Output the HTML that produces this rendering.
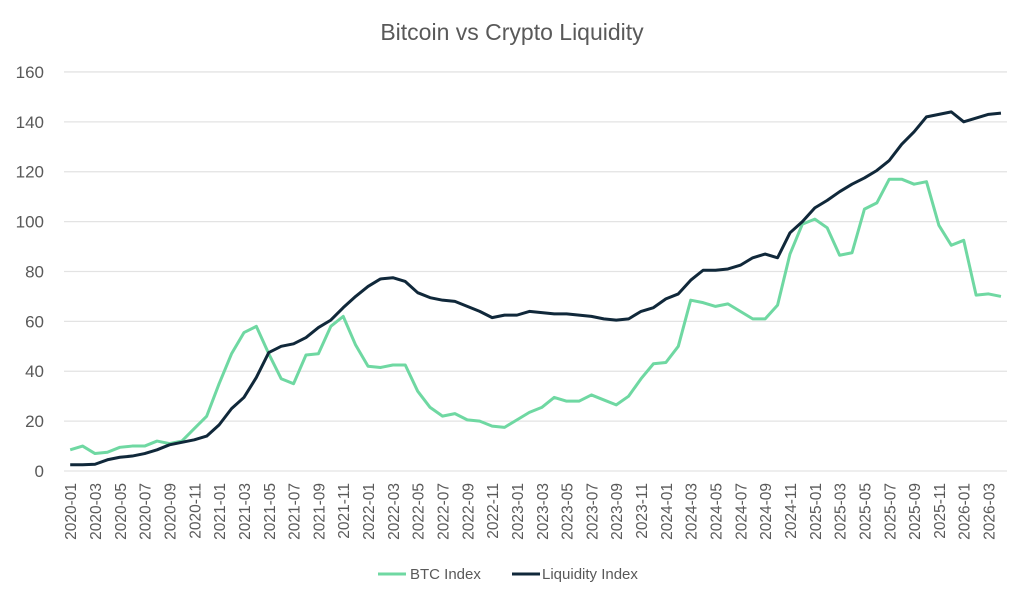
<!DOCTYPE html>
<html><head><meta charset="utf-8"><style>
body{margin:0;background:#fff;}
svg{display:block;font-family:"Liberation Sans",sans-serif;}
</style></head><body>
<svg id="c" width="1024" height="598" xmlns="http://www.w3.org/2000/svg">
<text x="512" y="40" text-anchor="middle" font-size="23" fill="#595959">Bitcoin vs Crypto Liquidity</text>
<g id="grid" stroke="#e3e3e3" stroke-width="1.3"></g>
<g id="yl" font-size="17" fill="#595959" text-anchor="end"></g>
<g id="xl" font-size="15.5" fill="#595959"></g>
<polyline id="btc" fill="none" stroke="#6fd8a2" stroke-width="3" stroke-linejoin="round"/>
<polyline id="liq" fill="none" stroke="#10283a" stroke-width="3" stroke-linejoin="round"/>
<line x1="378" y1="574" x2="406" y2="574" stroke="#6fd8a2" stroke-width="3"/>
<text x="410" y="579" font-size="15" fill="#595959">BTC Index</text>
<line x1="512" y1="574" x2="540" y2="574" stroke="#10283a" stroke-width="3"/>
<text x="542" y="579" font-size="15" fill="#595959">Liquidity Index</text>
</svg>
<script>
const btc=[8.5,10,7,7.5,9.5,10,10,12,11,12,17,22,35,47,55.5,58,47,37,35,46.5,47,58,62,50.5,42,41.5,42.5,42.5,32,25.5,22,23,20.5,20,18,17.5,20.5,23.5,25.5,29.5,28,28,30.5,28.5,26.5,30,37,43,43.5,50,68.5,67.5,66,67,64,61,61,66.5,87,99,101,97.5,86.5,87.5,105,107.5,117,117,115,116,98.5,90.5,92.5,70.5,71,70];
const liq=[2.5,2.5,2.7,4.5,5.5,6,7,8.5,10.5,11.5,12.5,14,18.5,25,29.5,37.5,47.5,50,51,53.5,57.5,60.5,65.5,70,74,77,77.5,76,71.5,69.5,68.5,68,66,64,61.5,62.5,62.5,64,63.5,63,63,62.5,62,61,60.5,61,64,65.5,69,71,76.5,80.5,80.5,81,82.5,85.5,87,85.5,95.5,100,105.5,108.5,112,115,117.5,120.5,124.5,131,136,142,143,144,140,141.5,143,143.5];
const X=i=>70.2+12.41*i, Y=v=>471-2.494*v;
const ns="http://www.w3.org/2000/svg";
const g=document.getElementById('grid'),yl=document.getElementById('yl'),xl=document.getElementById('xl');
for(let v=0;v<=160;v+=20){const l=document.createElementNS(ns,'line');l.setAttribute('x1',64);l.setAttribute('x2',1007);l.setAttribute('y1',Y(v));l.setAttribute('y2',Y(v));g.appendChild(l);
const t=document.createElementNS(ns,'text');t.setAttribute('x',44);t.setAttribute('y',Y(v)+6);t.textContent=v;yl.appendChild(t);}
for(let i=0;i<76;i+=2){const y=2020+Math.floor(i/12),m=i%12+1;const t=document.createElementNS(ns,'text');const x=X(i)+6;
t.setAttribute('transform',`translate(${x},483) rotate(-90)`);t.setAttribute('text-anchor','end');t.textContent=y+'-'+String(m).padStart(2,'0');xl.appendChild(t);}
document.getElementById('btc').setAttribute('points',btc.map((v,i)=>X(i)+','+Y(v)).join(' '));
document.getElementById('liq').setAttribute('points',liq.map((v,i)=>X(i)+','+Y(v)).join(' '));
</script>
</body></html>
